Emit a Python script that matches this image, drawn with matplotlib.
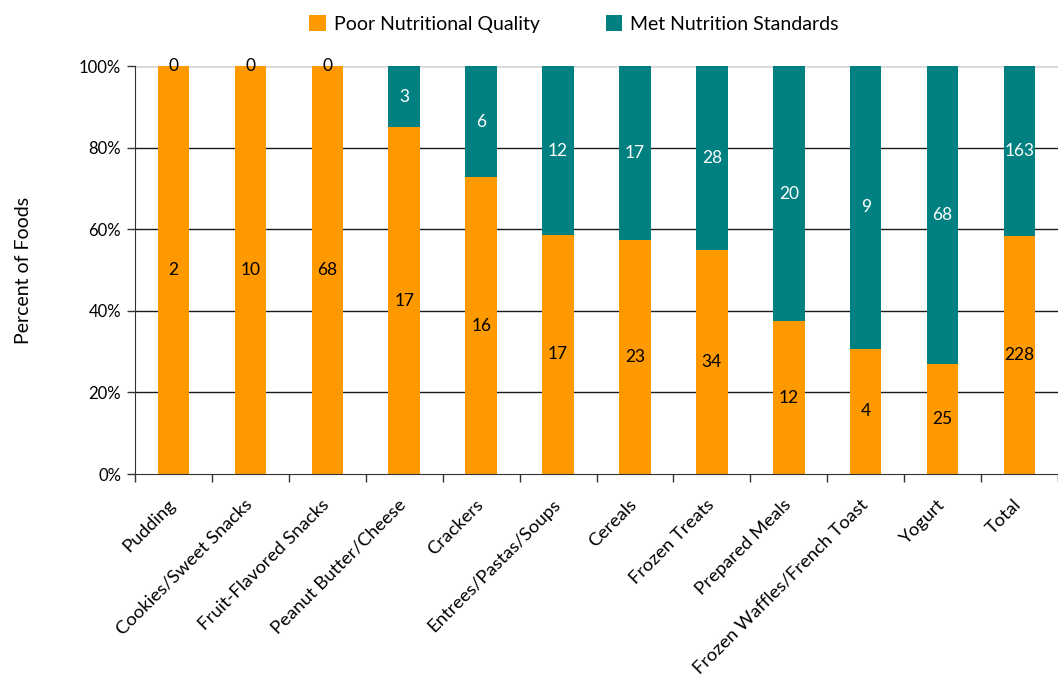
import numpy as np
import matplotlib.pyplot as plt
from matplotlib.ticker import FuncFormatter

plt.rcParams['font.family'] = ['Lato', 'DejaVu Sans']

categories = ['Pudding', 'Cookies/Sweet Snacks', 'Fruit-Flavored Snacks',
              'Peanut Butter/Cheese', 'Crackers', 'Entrees/Pastas/Soups',
              'Cereals', 'Frozen Treats', 'Prepared Meals',
              'Frozen Waffles/French Toast', 'Yogurt', 'Total']
poor = [2, 10, 68, 17, 16, 17, 23, 34, 12, 4, 25, 228]
met = [0, 0, 0, 3, 6, 12, 17, 28, 20, 9, 68, 163]

ORANGE = '#FF9900'
TEAL = '#008080'


def main():
    p = np.array(poor, dtype=float)
    m = np.array(met, dtype=float)
    tot = p + m
    p_pct = p / tot * 100
    m_pct = m / tot * 100
    x = np.arange(len(categories))

    fig = plt.figure(figsize=(10.58, 6.83), dpi=100)
    ax = fig.add_axes([0.1276, 0.306, 0.8724, 0.597])

    # gridlines
    for g in [20, 40, 60, 80]:
        ax.axhline(g, color='#1a1a1a', lw=1.0, zorder=1)
    ax.axhline(100, color='#d9d9d9', lw=2.0, zorder=1)

    b1 = ax.bar(x, p_pct, width=0.41, color=ORANGE, zorder=2,
                label='Poor Nutritional Quality')
    b2 = ax.bar(x, m_pct, width=0.41, bottom=p_pct, color=TEAL, zorder=2,
                label='Met Nutrition Standards')

    for i in range(len(x)):
        ax.text(x[i], p_pct[i] / 2, str(poor[i]), ha='center', va='center',
                fontsize=12.5, color='black', zorder=3)
        col = 'white' if met[i] > 0 else 'black'
        ax.text(x[i], p_pct[i] + m_pct[i] / 2, str(met[i]), ha='center',
                va='center', fontsize=12.5, color=col, zorder=3)

    ax.set_xlim(-0.5, len(x) - 0.5)
    ax.set_ylim(0, 100)
    ax.set_yticks([0, 20, 40, 60, 80, 100])
    ax.yaxis.set_major_formatter(FuncFormatter(lambda v, pos: f'{v:.0f}%'))
    ax.tick_params(axis='y', labelsize=12, length=6, width=1, color='#333333', pad=4)

    ax.set_xticks(x - 0.08)
    ax.set_xticklabels(categories, rotation=45, ha='right', rotation_mode='anchor',
                       fontsize=13.3)
    ax.tick_params(axis='x', length=0, pad=16)
    ax.set_xticks(np.arange(len(x) + 1) - 0.5, minor=True)
    ax.tick_params(axis='x', which='minor', length=6, width=1, color='#333333')

    for s in ['top', 'right']:
        ax.spines[s].set_visible(False)
    ax.spines['left'].set_color('#333333')
    ax.spines['bottom'].set_color('#333333')

    ax.set_ylabel('Percent of Foods', fontsize=14, labelpad=34)

    fig.legend(handles=[b1, b2], loc='center', ncol=2, frameon=False,
               bbox_to_anchor=(574 / 1058, 1 - 24 / 683), fontsize=14,
               handlelength=0.85, handleheight=0.85, columnspacing=3.4,
               handletextpad=0.4)

    fig.savefig('out.png', dpi=100)


if __name__ == "__main__":
    main()
